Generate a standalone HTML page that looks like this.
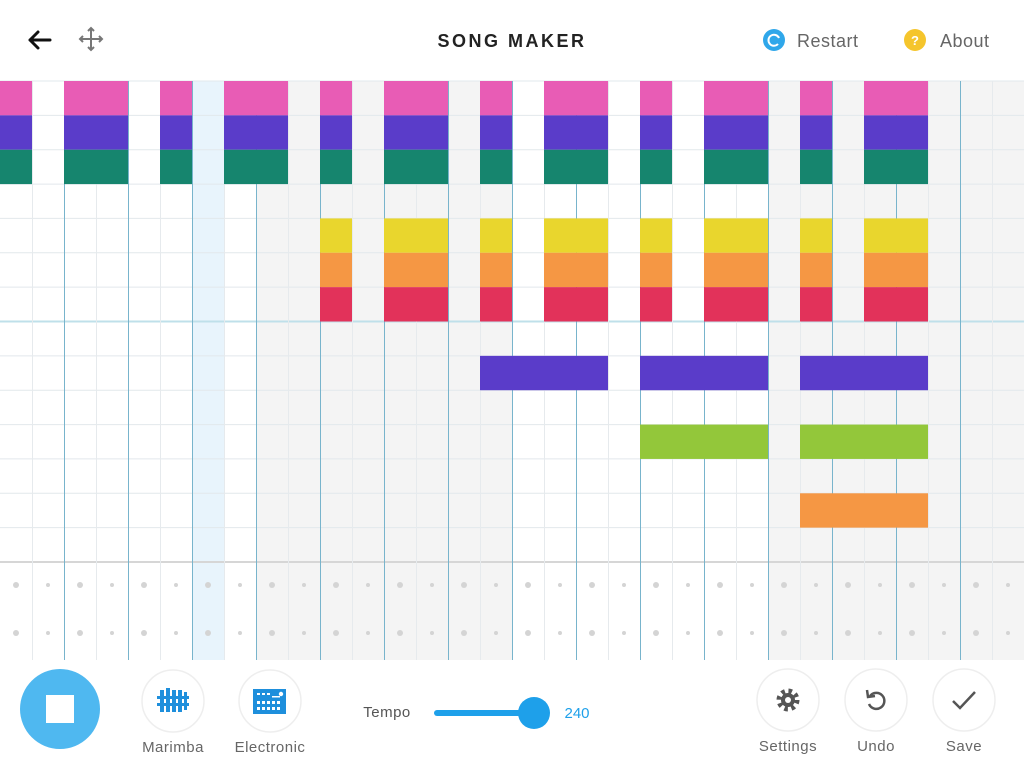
<!DOCTYPE html>
<html><head><meta charset="utf-8">
<style>
html,body{margin:0;padding:0;width:1024px;height:768px;overflow:hidden;background:#fff;font-family:"Liberation Sans",sans-serif;}
svg{position:absolute;left:0;top:0}
</style></head><body>
<svg id="s" width="1024" height="768" xmlns="http://www.w3.org/2000/svg">
<rect width="1024" height="768" fill="#fff"/>
<g id="g"></g>
<path d="M30 40 H50 M30 40 L38 32 M30 40 L38 48" stroke="#111" stroke-width="3" fill="none" stroke-linecap="round"/>
<g stroke="#777" stroke-width="2" fill="none">
<path d="M91 29 V49 M81 39 H101"/>
<path d="M88 31 L91 28 L94 31 M88 47 L91 50 L94 47 M83 36 L80 39 L83 42 M99 36 L102 39 L99 42"/>
</g>
<text x="512" y="47" text-anchor="middle" font-size="18" font-weight="bold" letter-spacing="2.5" fill="#222">SONG MAKER</text>
<circle cx="774" cy="40" r="11" fill="#2fa7ea"/>
<path d="M779 38 A5.5 5.5 0 1 0 778 44" stroke="#fff" stroke-width="2" fill="none"/>
<text x="797" y="47" font-size="18" fill="#666" letter-spacing="0.5">Restart</text>
<circle cx="915" cy="40" r="11" fill="#f5c52c"/>
<text x="915" y="45" text-anchor="middle" font-size="13" font-weight="bold" fill="#fff">?</text>
<text x="940" y="47" font-size="18" fill="#666" letter-spacing="0.5">About</text>
<circle cx="60" cy="709" r="40" fill="#4fb8f0"/>
<rect x="46" y="695" width="28" height="28" fill="#fff"/>
<circle cx="173" cy="701" r="31" fill="#fff" stroke="#eee" stroke-width="1.5"/>
<g fill="#1e8fdc"><rect x="160" y="690" width="4" height="22"/><rect x="166" y="688" width="4" height="24"/><rect x="172" y="690" width="4" height="22"/><rect x="178" y="690" width="4" height="22"/><rect x="184" y="692" width="3" height="18"/><rect x="157" y="696" width="32" height="3"/><rect x="157" y="703" width="32" height="3"/></g>
<text x="173" y="752" text-anchor="middle" font-size="15" fill="#666" letter-spacing="0.5">Marimba</text>
<circle cx="270" cy="701" r="31" fill="#fff" stroke="#eee" stroke-width="1.5"/>
<rect x="253" y="689" width="33" height="25" fill="#1e8fdc"/>
<g fill="#fff"><rect x="257" y="693" width="3" height="2"/><rect x="262" y="693" width="3" height="2"/><rect x="267" y="693" width="3" height="2"/><rect x="272" y="696" width="8" height="1.5"/><circle cx="281" cy="694" r="2.2"/>
<rect x="257" y="701" width="3" height="3"/><rect x="262" y="701" width="3" height="3"/><rect x="267" y="701" width="3" height="3"/><rect x="272" y="701" width="3" height="3"/><rect x="277" y="701" width="3" height="3"/><rect x="257" y="707" width="3" height="3"/><rect x="262" y="707" width="3" height="3"/><rect x="267" y="707" width="3" height="3"/><rect x="272" y="707" width="3" height="3"/><rect x="277" y="707" width="3" height="3"/></g>
<text x="270" y="752" text-anchor="middle" font-size="15" fill="#666" letter-spacing="0.5">Electronic</text>
<text x="387" y="717" text-anchor="middle" font-size="15" fill="#555" letter-spacing="0.5">Tempo</text>
<line x1="437" y1="713" x2="533" y2="713" stroke="#1ea0ea" stroke-width="6" stroke-linecap="round"/>
<circle cx="534" cy="713" r="16" fill="#1ea0ea"/>
<text x="577" y="718" text-anchor="middle" font-size="15" fill="#1ea0ea">240</text>
<circle cx="788" cy="700" r="31" fill="#fff" stroke="#eee" stroke-width="1.5"/>
<circle cx="788" cy="700" r="9" fill="none" stroke="#555" stroke-width="5" stroke-dasharray="3.5 3.6"/>
<circle cx="788" cy="700" r="7" fill="#555"/><circle cx="788" cy="700" r="3" fill="#fff"/>
<text x="788" y="751" text-anchor="middle" font-size="15" fill="#666" letter-spacing="0.5">Settings</text>
<circle cx="876" cy="700" r="31" fill="#fff" stroke="#eee" stroke-width="1.5"/>
<path d="M870 696 A8 8 0 1 1 869 704" stroke="#555" stroke-width="2.5" fill="none"/>
<path d="M867 690 L868 697 L875 696" stroke="#555" stroke-width="2.5" fill="none"/>
<text x="876" y="751" text-anchor="middle" font-size="15" fill="#666" letter-spacing="0.5">Undo</text>
<circle cx="964" cy="700" r="31" fill="#fff" stroke="#eee" stroke-width="1.5"/>
<path d="M953 701 L960 708 L975 692" stroke="#555" stroke-width="2.5" fill="none"/>
<text x="964" y="751" text-anchor="middle" font-size="15" fill="#666" letter-spacing="0.5">Save</text>
</svg>
<script>
var g=document.getElementById('g'),h='';
var T=81,B=562,RH=(B-T)/14,PB=660;
function r(x,y,w,hh,c){h+='<rect x="'+x+'" y="'+y+'" width="'+w+'" height="'+hh+'" fill="'+c+'"/>';}
r(256,T,256,PB-T,'#f4f4f4');r(768,T,256,PB-T,'#f4f4f4');
r(192,T,32,PB-T,'#e8f4fc');
for(var i=1;i<14;i++){var y=T+i*RH;h+='<line x1="0" x2="1024" y1="'+y+'" y2="'+y+'" stroke="'+(i==7?'#bfe0ea':'#e2e8ec')+'" stroke-width="'+(i==7?2:1)+'"/>';}
h+='<line x1="0" x2="1024" y1="'+T+'" y2="'+T+'" stroke="#e2e8ec"/>';
h+='<line x1="0" x2="1024" y1="'+B+'" y2="'+B+'" stroke="#d6d6d6" stroke-width="2"/>';
for(var k=1;k<32;k++){var x=k*32+0.5;h+='<line x1="'+x+'" x2="'+x+'" y1="'+T+'" y2="'+PB+'" stroke="'+(k%2==0?'#78b4cc':'#e6eaed')+'" stroke-width="1"/>';}
var A=[[0],[2,3],[5],[7,8],[10],[12,13],[15],[17,18],[20],[22,23],[25],[27,28]];
var Bn=[[10],[12,13],[15],[17,18],[20],[22,23],[25],[27,28]];
function row(ri,sets,c){sets.forEach(function(s){r(s[0]*32,T+ri*RH,s.length*32,RH,c);});}
row(0,A,'#e85cb5');row(1,A,'#5a3cc9');row(2,A,'#16856e');
row(4,Bn,'#e9d62d');row(5,Bn,'#f59744');row(6,Bn,'#e2325a');
row(8,[[15,16,17,18],[20,21,22,23],[25,26,27,28]],'#5a3cc9');
row(10,[[20,21,22,23],[25,26,27,28]],'#93c73a');
row(12,[[25,26,27,28]],'#f59744');
for(var k=0;k<32;k++){var cx=k*32+16;var rr=k%2==0?3:2;h+='<circle cx="'+cx+'" cy="585" r="'+rr+'" fill="#d4d4d4"/><circle cx="'+cx+'" cy="633" r="'+rr+'" fill="#d4d4d4"/>';}
g.innerHTML=h;
</script>
</body></html>
